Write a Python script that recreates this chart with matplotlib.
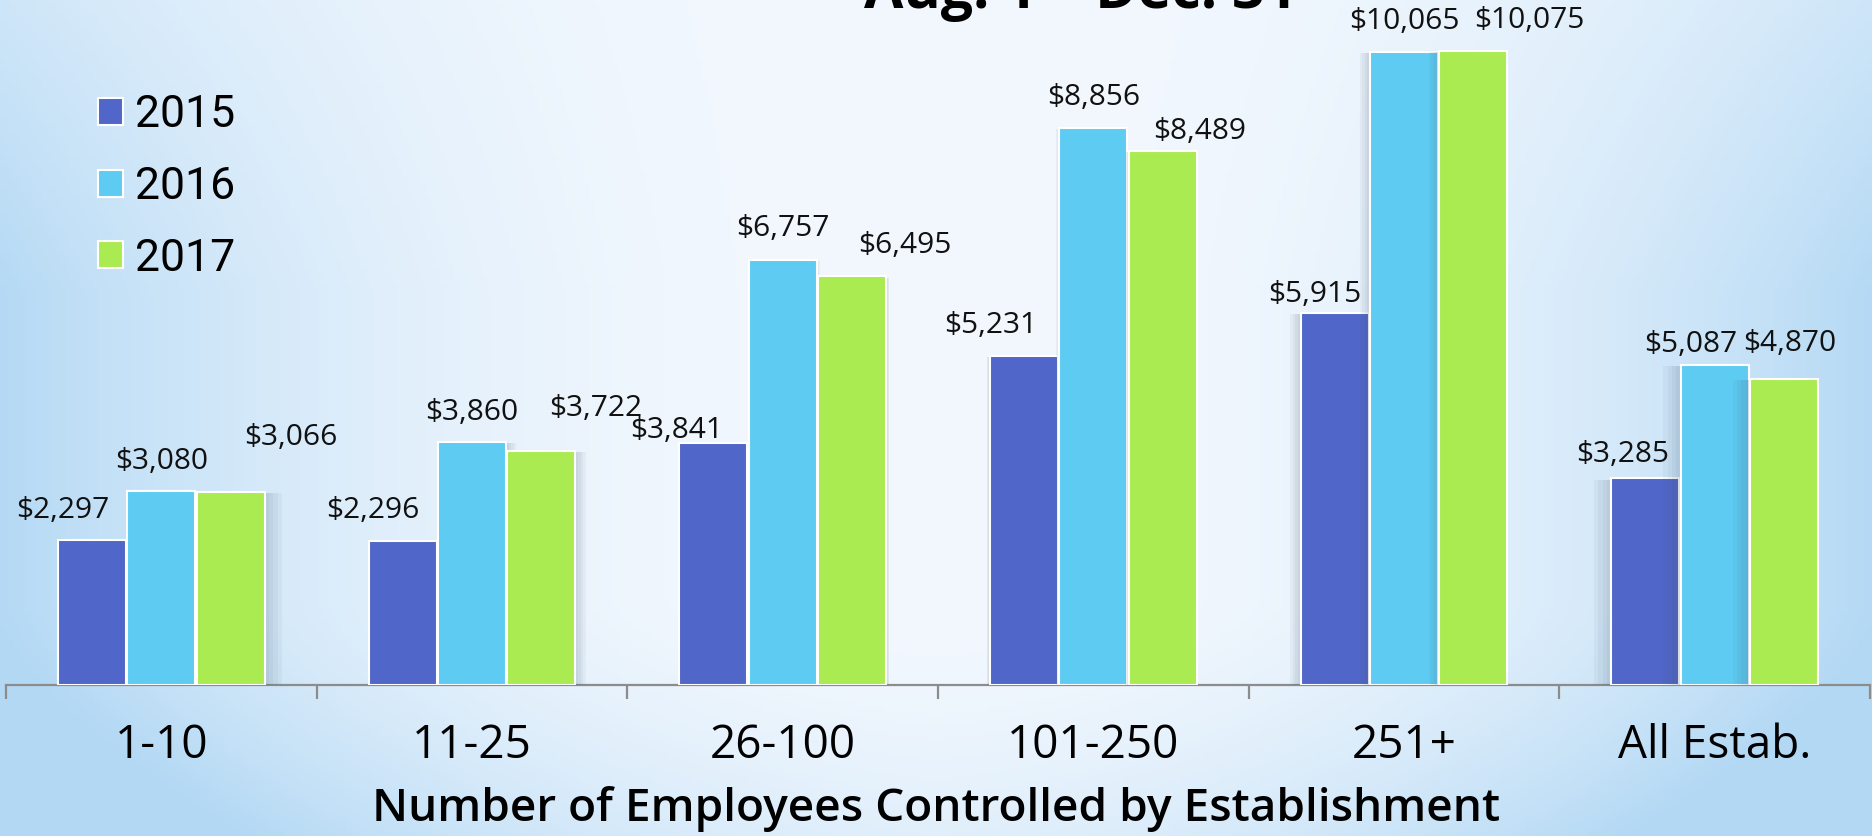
import numpy as np
import matplotlib
matplotlib.use('Agg')
import matplotlib.pyplot as plt
import matplotlib.patheffects as pe
from matplotlib.patches import Patch

# ---------------- data ----------------
categories = ['1-10', '11-25', '26-100', '101-250', '251+', 'All Estab.']
years = ['2015', '2016', '2017']
v2015 = [2297, 2296, 3841, 5231, 5915, 3285]
v2016 = [3080, 3860, 6757, 8856, 10065, 5087]
v2017 = [3066, 3722, 6495, 8489, 10075, 4870]
title_text = 'Aug. 1 \u2013 Dec. 31'
xlabel_text = 'Number of Employees Controlled by Establishment'

# ---------------- style ----------------
colors = ['#5066c8', '#5ecbf2', '#abeb52']
# label offsets (pixels) from the top-centre of each bar
label_dx = [[-29, -30, -37, -33, -20, -23],
            [0, 0, 0, 0, 0, -24],
            [60, 54, 53, 37, 56, 6]]
label_dy = [[30, 30, 13, 30, 18, 24],
            [30, 30, 31, 30, 30, 20],
            [55, 42, 31, 19, 30, 35]]

FONT = 'Open Sans'
W, H = 1872, 836
fig = plt.figure(figsize=(W / 100, H / 100), dpi=100)
renderer = fig.canvas.get_renderer()


def fit_width(txt, target_px):
    bb = txt.get_window_extent(renderer=renderer)
    txt.set_fontsize(txt.get_fontsize() * target_px / bb.width)


# background gradient
bg = fig.add_axes([0, 0, 1, 1], zorder=-10)
xx = np.linspace(0, 1, 400)[None, :]
yy = np.linspace(0, 1, 200)[:, None]
tx = np.abs(xx - 0.5) * 2
ty = np.clip((yy - 0.72) / 0.28, 0, 1)
vert = 0.6 + 0.4 * np.clip(yy / 0.35, 0, 1)
w = np.clip(0.95 * tx ** 2.2 * vert + 0.55 * ty ** 1.5 * (0.5 + 0.5 * tx), 0, 1)
center = np.array([243, 248, 254]) / 255
edge = np.array([178, 216, 244]) / 255
img = center[None, None, :] + (edge - center)[None, None, :] * w[:, :, None]
bg.imshow(img, aspect='auto', extent=[0, 1, 1, 0])
bg.set_xlim(0, 1)
bg.set_ylim(1, 0)
bg.axis('off')

ax = fig.add_axes([6 / W, 1 - 685 / H, (1870 - 6) / W, 685 / H])
ax.patch.set_alpha(0)
ax.set_xlim(-0.5, 5.5)
ax.set_ylim(0, 10885)

x = np.arange(len(categories))
step = 0.223
bw = 0.219
series = [v2015, v2016, v2017]
for k, vals in enumerate(series):
    bars = ax.bar(x + (k - 1) * step, vals, bw, color=colors[k], edgecolor='white',
                  linewidth=1.5, label=years[k], zorder=3)
    for i, b in enumerate(bars):
        dxs = (2.5 - i) * 5
        effects = [pe.SimplePatchShadow(offset=(dxs * (j + 1) / 4, -1), shadow_rgbFace='#40566c', alpha=0.05)
                   for j in range(4)]
        b.set_path_effects(effects + [pe.Normal()])
        ax.annotate(f'${vals[i]:,}', (b.get_x() + b.get_width() / 2, b.get_height()),
                    xytext=(label_dx[k][i], label_dy[k][i]), textcoords='offset pixels',
                    ha='center', va='center', fontsize=21.5, family=FONT, color='#111111',
                    zorder=5)

for sp in ['top', 'left', 'right']:
    ax.spines[sp].set_visible(False)
ax.spines['bottom'].set_color('#8c8c8c')
ax.spines['bottom'].set_linewidth(1.6)
ax.set_yticks([])
ax.set_xticks(x, categories)
ax.set_xticks(np.arange(-0.5, 6, 1), minor=True)
ax.tick_params(axis='x', which='major', length=0, pad=27, labelsize=33)
ax.tick_params(axis='x', which='minor', length=10, width=1.6, color='#8c8c8c')
for lab in ax.get_xticklabels():
    lab.set_family(FONT)

xl = fig.text(936 / W, 1 - 821 / H, xlabel_text, ha='center', va='baseline',
              fontsize=30, fontweight='semibold', family=FONT)
fit_width(xl, 1128)
tt = fig.text(1081 / W, 1 - 8 / H, title_text, ha='center', va='baseline',
              fontsize=40, fontweight='bold', family=FONT)
fit_width(tt, 432)

handles = [Patch(facecolor=colors[k], edgecolor='white', linewidth=1.5, label=years[k]) for k in range(3)]
leg = fig.legend(handles=handles, loc='upper left', bbox_to_anchor=(98 / W, 1 - 94 / H),
                 frameon=False, prop={'family': 'Roboto', 'size': 32},
                 handlelength=0.56, handleheight=0.56, handletextpad=0.27,
                 labelspacing=0.67, borderpad=0, borderaxespad=0)

fig.savefig('out.png', dpi=100)
